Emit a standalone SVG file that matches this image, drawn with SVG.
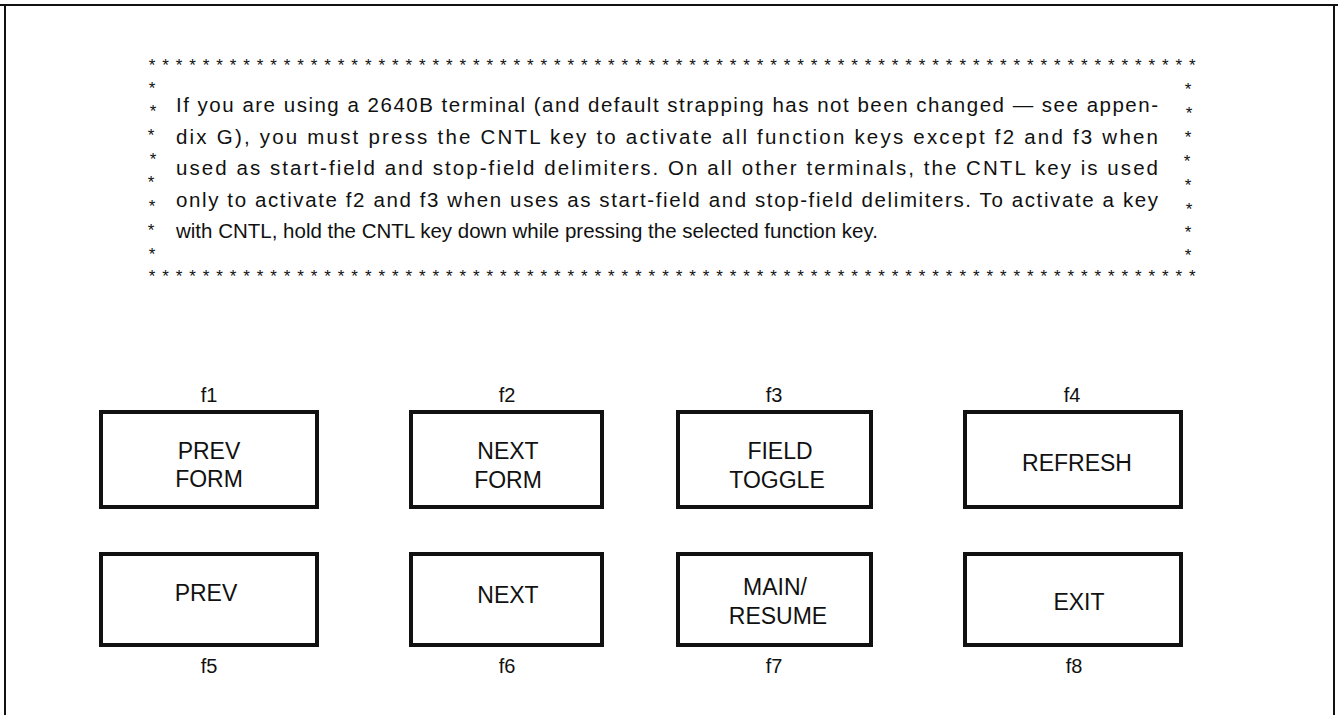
<svg xmlns="http://www.w3.org/2000/svg" width="1338" height="715" viewBox="0 0 1338 715">
<style>
.frame{stroke:#111;stroke-width:2;fill:none}
.key{fill:#fff;stroke:#111;stroke-width:4}
.star{font-family:"Liberation Sans",Arial,sans-serif;font-size:17px;fill:#111}
.body{font-family:"Liberation Sans",Arial,sans-serif;font-size:20.5px;fill:#111}
.kt{font-family:"Liberation Sans",Arial,sans-serif;font-size:23px;fill:#111;text-anchor:middle}
.fl{font-family:"Liberation Sans",Arial,sans-serif;font-size:20px;fill:#111;text-anchor:middle}
</style>
<rect width="1338" height="715" fill="#fff"/>
<g id="frame">
<line class="frame" x1="0" y1="5" x2="1338" y2="5"/>
<line class="frame" x1="5" y1="5" x2="5" y2="715"/>
<line class="frame" x1="1334" y1="5" x2="1334" y2="715"/>
</g>
<g id="note">
<text class="star" x="148.7" y="71" textLength="1047" lengthAdjust="spacing">******************************************************************************</text>
<text class="star" x="148.7" y="282" textLength="1047" lengthAdjust="spacing">******************************************************************************</text>
<text class="star" text-anchor="middle" x="152 153 151 153 151 152 151 152" y="94 117 141 165 188 212 236 260">********</text>
<text class="star" text-anchor="middle" x="1188 1189 1188 1187 1188 1189 1188 1188" y="95 119 143 167 191 215 238 261">********</text>
<text class="body" x="176" y="112" textLength="982" lengthAdjust="spacing">If you are using a 2640B terminal (and default strapping has not been changed — see appen-</text>
<text class="body" x="176" y="143.5" textLength="982" lengthAdjust="spacing">dix G), you must press the CNTL key to activate all function keys except f2 and f3 when</text>
<text class="body" x="176" y="175" textLength="982" lengthAdjust="spacing">used as start-field and stop-field delimiters. On all other terminals, the CNTL key is used</text>
<text class="body" x="176" y="206.5" textLength="982" lengthAdjust="spacing">only to activate f2 and f3 when uses as start-field and stop-field delimiters. To activate a key</text>
<text class="body" x="176" y="238">with CNTL, hold the CNTL key down while pressing the selected function key.</text>
</g>
<g id="key-f1">
<text class="fl" x="209" y="402">f1</text>
<rect class="key" x="101" y="412" width="216" height="95"/>
<text class="kt" x="209" y="459">PREV</text>
<text class="kt" x="209" y="487">FORM</text>
</g>
<g id="key-f2">
<text class="fl" x="507" y="402">f2</text>
<rect class="key" x="411" y="412" width="191" height="95"/>
<text class="kt" x="508" y="459">NEXT</text>
<text class="kt" x="508" y="488">FORM</text>
</g>
<g id="key-f3">
<text class="fl" x="774" y="402">f3</text>
<rect class="key" x="678" y="412" width="193" height="95"/>
<text class="kt" x="780" y="459">FIELD</text>
<text class="kt" x="777" y="488">TOGGLE</text>
</g>
<g id="key-f4">
<text class="fl" x="1072" y="402">f4</text>
<rect class="key" x="965" y="412" width="216" height="95"/>
<text class="kt" x="1077" y="471">REFRESH</text>
</g>
<g id="key-f5">
<rect class="key" x="101" y="554" width="216" height="91"/>
<text class="kt" x="206" y="601">PREV</text>
<text class="fl" x="209" y="673">f5</text>
</g>
<g id="key-f6">
<rect class="key" x="411" y="554" width="191" height="91"/>
<text class="kt" x="508" y="603">NEXT</text>
<text class="fl" x="507" y="673">f6</text>
</g>
<g id="key-f7">
<rect class="key" x="678" y="554" width="193" height="91"/>
<text class="kt" x="775" y="595">MAIN/</text>
<text class="kt" x="778" y="624">RESUME</text>
<text class="fl" x="774" y="673">f7</text>
</g>
<g id="key-f8">
<rect class="key" x="965" y="554" width="216" height="91"/>
<text class="kt" x="1079" y="610">EXIT</text>
<text class="fl" x="1074" y="673">f8</text>
</g>
<g id="connectors"/>
</svg>
